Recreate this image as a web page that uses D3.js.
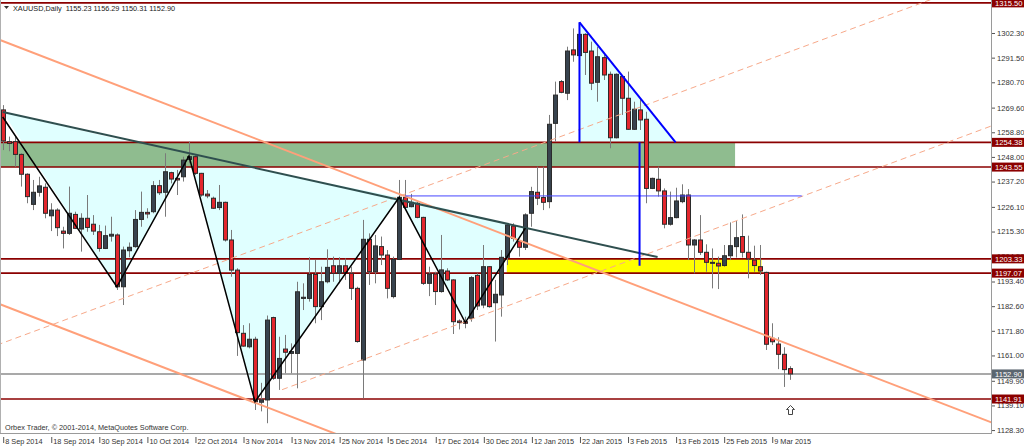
<!DOCTYPE html>
<html><head><meta charset="utf-8">
<script src="https://cdn.jsdelivr.net/npm/d3@7/dist/d3.min.js"></script>
<style>html,body{margin:0;padding:0;background:#fff;overflow:hidden}
svg{display:block;font-family:"Liberation Sans",Arial,sans-serif}</style>
</head><body><svg id="c" width="1024" height="447"></svg>
<script>
// ---------- data ----------
const title = "XAUUSD,Daily  1155.23 1156.29 1150.31 1152.90";
const copyright = "Orbex Trader, \u00a9 2001-2014, MetaQuotes Software Corp.";
const dateTickIndex = [0,8,16,24,32,40,48,56,64,72,80,88,96,104,112,120,128];
const dateTickLabels = ["8 Sep 2014","18 Sep 2014","30 Sep 2014","10 Oct 2014","22 Oct 2014","3 Nov 2014","13 Nov 2014","25 Nov 2014","5 Dec 2014","17 Dec 2014","30 Dec 2014","12 Jan 2015","22 Jan 2015","3 Feb 2015","13 Feb 2015","25 Feb 2015","9 Mar 2015"];
const priceTicks = [1315.40,1302.30,1291.50,1280.70,1269.60,1258.80,1248.00,1237.20,1226.10,1215.30,1204.50,1193.40,1182.60,1171.80,1161.00,1149.90,1139.10,1128.30];
const openP = [1268.6,1254.7,1254.7,1249.1,1240.4,1227.2,1232.5,1234.7,1222.2,1224.7,1215.5,1214.5,1222.8,1216.4,1221.1,1218.5,1215.2,1207.9,1213.3,1213.8,
1191.1,1206.9,1208.7,1220.6,1223.7,1224.0,1235.4,1232.5,1241.1,1238.6,1239.3,1246.9,1248.1,1240.8,1231.7,1229.9,1225.8,1228.1,1211.6,1198.4,
1170.7,1164.8,1168.1,1140.5,1141.5,1177.6,1151.0,1163.8,1161.9,1161.9,1186.0,1186.0,1196.5,1182.4,1193.3,1200.3,1197.0,1200.3,1197.0,1190.4,
1159.0,1211.9,1197.7,1208.7,1205.0,1186.8,1203.1,1230.3,1226.2,1227.7,1221.5,1192.6,1196.7,1189.0,1198.0,1194.1,1176.1,1175.8,1177.3,1196.1,
1183.1,1199.9,1184.1,1187.5,1204.0,1217.7,1210.9,1208.4,1223.3,1232.5,1230.2,1228.4,1262.7,1281.0,1275.9,1294.9,1292.4,1301.7,1294.4,1280.7,
1291.5,1284.2,1256.4,1283.2,1273.7,1260.1,1268.6,1264.5,1234.2,1238.2,1233.1,1218.5,1221.4,1228.4,1231.3,1209.4,1211.6,1206.2,1201.4,1201.4,
1200.4,1204.7,1208.7,1213.1,1206.2,1202.8,1199.9,1197.4,1168.5,1166.0,1161.5,1155.23];
const highP = [1270.7,1256.9,1256.9,1249.6,1240.8,1237.9,1239.3,1236.4,1227.7,1225.5,1217.4,1235.0,1224.0,1223.3,1231.3,1222.5,1218.2,1217.9,1221.8,1214.5,
1208.7,1210.5,1224.7,1232.8,1225.5,1237.4,1237.9,1249.6,1241.5,1242.3,1248.1,1254.7,1248.8,1241.0,1233.5,1230.6,1235.7,1228.4,1216.0,1199.2,
1174.3,1175.1,1169.2,1149.0,1178.5,1178.0,1169.2,1170.0,1166.3,1193.3,1192.6,1204.0,1202.8,1199.9,1207.5,1204.3,1204.0,1203.5,1199.9,1191.1,
1220.4,1214.5,1213.8,1213.1,1207.2,1204.3,1237.9,1237.9,1231.8,1228.4,1221.8,1199.9,1197.7,1213.8,1199.2,1194.4,1176.8,1178.0,1195.8,1197.0,
1209.4,1200.2,1194.1,1207.2,1218.9,1218.9,1211.6,1223.3,1234.9,1243.7,1243.7,1266.4,1281.0,1281.7,1296.3,1304.3,1307.0,1302.2,1298.5,1296.3,
1292.9,1285.4,1284.6,1283.9,1285.4,1272.2,1273.7,1267.8,1238.9,1243.7,1234.2,1232.8,1234.5,1236.0,1233.9,1212.0,1222.5,1209.7,1207.9,1204.3,
1209.4,1219.3,1219.9,1222.8,1213.5,1209.1,1209.4,1197.7,1175.1,1169.0,1164.6,1156.29];
const lowP = [1251.0,1250.5,1243.7,1235.0,1227.7,1224.7,1230.6,1221.1,1215.5,1213.3,1207.9,1213.8,1216.4,1206.5,1215.2,1213.8,1206.5,1207.6,1210.9,1189.7,
1183.1,1204.0,1208.2,1217.4,1221.1,1223.3,1231.3,1221.8,1236.4,1231.3,1237.2,1245.2,1240.1,1230.6,1229.9,1225.2,1224.7,1210.9,1195.5,1160.8,
1164.8,1164.1,1137.1,1136.5,1131.3,1150.3,1145.9,1153.2,1153.2,1146.6,1180.9,1184.6,1175.1,1176.5,1192.6,1193.3,1192.6,1194.1,1185.3,1166.6,
1142.2,1191.9,1192.6,1200.6,1186.0,1186.0,1202.8,1224.7,1225.9,1221.1,1191.9,1187.0,1183.1,1188.5,1193.6,1170.4,1172.4,1172.9,1175.8,1180.9,
1181.7,1181.9,1167.1,1178.0,1200.6,1210.9,1204.3,1207.2,1217.4,1226.9,1224.7,1225.5,1254.7,1275.9,1272.9,1289.7,1288.3,1283.9,1277.3,1272.2,
1281.7,1251.8,1256.1,1266.4,1259.8,1259.8,1259.8,1227.7,1233.9,1230.6,1216.7,1217.9,1221.1,1227.7,1202.8,1197.0,1205.0,1197.7,1190.4,1190.1,
1199.9,1202.8,1203.9,1203.9,1194.8,1197.7,1196.3,1163.4,1165.6,1155.0,1147.2,1150.31];
const closeP = [1255.0,1253.9,1249.1,1240.4,1230.6,1232.5,1235.3,1223.3,1224.7,1217.0,1214.5,1223.3,1216.7,1221.1,1217.1,1215.5,1207.9,1213.5,1214.1,1191.1,
1207.2,1208.4,1220.6,1223.7,1223.0,1235.4,1232.3,1241.5,1238.3,1237.9,1246.6,1248.1,1240.8,1231.3,1230.9,1225.5,1228.1,1211.6,1198.4,1171.0,
1165.1,1168.1,1140.7,1141.5,1176.5,1151.0,1159.7,1162.4,1162.7,1188.9,1186.5,1196.5,1182.4,1193.3,1199.6,1197.0,1200.3,1197.3,1190.4,1167.1,
1211.9,1197.7,1209.0,1205.0,1190.4,1203.1,1230.3,1225.9,1228.1,1221.5,1192.6,1196.7,1189.0,1198.5,1194.1,1175.8,1175.4,1175.1,1195.1,1182.7,
1199.9,1182.4,1187.8,1204.0,1218.2,1212.3,1208.4,1222.6,1232.8,1229.9,1228.1,1262.3,1275.1,1276.3,1294.4,1292.7,1301.7,1293.8,1280.3,1291.9,
1283.9,1256.4,1284.2,1273.7,1260.1,1268.9,1264.2,1234.2,1238.6,1233.1,1218.5,1221.4,1228.7,1231.3,1209.4,1211.6,1206.2,1201.8,1201.8,1200.2,
1204.7,1209.1,1212.6,1206.2,1203.3,1200.4,1198.0,1165.9,1167.0,1161.5,1154.8,1152.90];
const levelPrices = [1315.50,1254.38,1243.55,1203.33,1197.07,1141.91];
const lastPrice = 1152.90;
// annotation objects in (bar index, price)
const greenZone = {i0:-1, i1:121.9, p0:1243.55, p1:1254.38};
const yellowZone = {i0:83.9, i1:126.3, p0:1197.07, p1:1203.33};
const patternTriangles = [
  [[0,1267.7],[19,1191.1],[31,1248.4]],
  [[31,1248.4],[42,1140.7],[66,1230.3]],
  [[66,1230.3],[77,1175.4],[87,1216.8]],
  [[96,1307.0],[96,1254.38],[112,1254.38]]
];
const zigzagIdx = [0,19,31,42,66,77,87];
const zigzagPrice = [1265.5,1191.1,1248.4,1140.7,1230.3,1175.4,1216.8];
const slateLine = [[0,1267.7],[109,1204.1]];
const orangeSolid = [[[-1,1299.8],[165,1131.2]], [[-1,1184.0],[60,1122.0]]];
const orangeDashed = [[[-1,1165.5],[165,1327.2]], [[46.5,1146.0],[165,1262.0]]];
const blueSegs = [[[96,1307.0],[96,1254.38]], [[96,1307.0],[112,1254.38]], [[106,1254.38],[106,1200.3]]];
const blueHoriz = [[67,1230.9],[133,1230.9]];
const arrowAt = [131,1139.5];

// ---------- drawing ----------
const W = 1024, H = 447, plotR = 991, plotB = 433;
const svg = d3.select("#c");
const x = d3.scaleLinear().domain([0,131]).range([2.7, 2.7+131*6.008]);
const y = d3.scaleLinear().domain([1126.58,1316.76]).range([434,0]);
const P = d => [x(d[0]), y(d[1])];

svg.append("defs").append("clipPath").attr("id","clip")
  .append("rect").attr("x",1).attr("y",0).attr("width",plotR-1).attr("height",plotB);
const g = svg.append("g").attr("clip-path","url(#clip)");

// cyan triangles
g.selectAll("polygon.tri").data(patternTriangles).join("polygon")
  .attr("points", t => t.map(P).map(p=>p.join(",")).join(" "))
  .attr("fill","#e0ffff");
// zones
g.append("rect").attr("x",x(greenZone.i0)).attr("width",x(greenZone.i1)-x(greenZone.i0))
  .attr("y",y(greenZone.p1)).attr("height",y(greenZone.p0)-y(greenZone.p1)).attr("fill","#8fbc8f");
g.append("rect").attr("x",x(yellowZone.i0)).attr("width",x(yellowZone.i1)-x(yellowZone.i0))
  .attr("y",y(yellowZone.p1)).attr("height",y(yellowZone.p0)-y(yellowZone.p1)).attr("fill","#ffff00");
// horizontal levels
g.selectAll("line.lvl").data(levelPrices).join("line")
  .attr("x1",0).attr("x2",plotR).attr("y1",d=>y(d)).attr("y2",d=>y(d))
  .attr("stroke","#8b0000").attr("stroke-width",1.6);
g.append("line").attr("x1",0).attr("x2",plotR).attr("y1",y(lastPrice)).attr("y2",y(lastPrice))
  .attr("stroke","#8c8c8c").attr("stroke-width",1.4);

// candles
const idx = d3.range(openP.length);
const cg = g.append("g");
idx.forEach(i => {
  const r = Math.round(x(i));
  const o = openP[i], c = closeP[i], bull = c >= o;
  cg.append("line").attr("x1",r+0.5).attr("x2",r+0.5).attr("y1",y(highP[i])).attr("y2",y(lowP[i]))
    .attr("stroke","#7a7a7a").attr("stroke-width",1);
  const top = y(Math.max(o,c)), bot = y(Math.min(o,c));
  cg.append("rect").attr("x",r-1.5).attr("width",4).attr("y",top).attr("height",Math.max(1,bot-top))
    .attr("fill", bull ? "#38434e" : "#e3262d").attr("stroke","#2b2b2b").attr("stroke-width",1);
});

// trend lines
const line = d3.line().x(d=>x(d[0])).y(d=>y(d[1]));
orangeSolid.forEach(s => g.append("path").attr("d",line(s)).attr("stroke","#ffa07a").attr("stroke-width",2).attr("fill","none"));
orangeDashed.forEach(s => g.append("path").attr("d",line(s)).attr("stroke","#f7a98a").attr("stroke-width",1).attr("stroke-dasharray","6,4").attr("fill","none"));
g.append("path").attr("d",line(slateLine)).attr("stroke","#2f4f4f").attr("stroke-width",2).attr("fill","none");
g.append("path").attr("d",line(zigzagIdx.map((d,k)=>[d,zigzagPrice[k]]))).attr("stroke","#000").attr("stroke-width",1.5).attr("fill","none");
g.append("path").attr("d",line(blueHoriz)).attr("stroke","#4646ff").attr("stroke-width",1).attr("fill","none");
blueSegs.forEach(s => g.append("path").attr("d",line(s)).attr("stroke","#0000ff").attr("stroke-width",2).attr("fill","none"));

// arrow
const [ax, ay] = P(arrowAt);
g.append("path").attr("transform",`translate(${Math.round(ax)+0.5},${Math.round(ay)+0.5})`)
  .attr("d","M0,0 L4,4 L2,4 L2,9 L-2,9 L-2,4 L-4,4 Z").attr("fill","#fff").attr("stroke","#444").attr("stroke-width",1);

// frame
svg.append("line").attr("x1",plotR+0.5).attr("x2",plotR+0.5).attr("y1",0).attr("y2",plotB+1).attr("stroke","#9a9a9a");
svg.append("line").attr("x1",0).attr("x2",plotR+1).attr("y1",plotB+0.5).attr("y2",plotB+0.5).attr("stroke","#9a9a9a");
svg.append("line").attr("x1",0.5).attr("x2",0.5).attr("y1",0).attr("y2",plotB).attr("stroke","#b0b0b0");

// right axis
const ay1 = svg.append("g").attr("transform",`translate(${plotR+1},0)`)
  .call(d3.axisRight(y).tickValues(priceTicks).tickFormat(d3.format(".2f")).tickSize(3).tickPadding(2));
ay1.select(".domain").remove();
ay1.selectAll("line").attr("stroke","#555");
ay1.selectAll("text").attr("font-size",7.6).attr("fill","#333").attr("font-family","Liberation Sans, Arial, sans-serif");

// bottom axis
const ax1 = svg.append("g").attr("transform",`translate(0,${plotB+4})`)
  .call(d3.axisBottom(x).tickValues(dateTickIndex).tickFormat((d,k)=>dateTickLabels[k]).tickSize(6));
ax1.select(".domain").remove();
ax1.selectAll("line").attr("stroke","#555").attr("transform","translate(0.5,0)");
ax1.selectAll("text").attr("text-anchor","start").attr("x",2).attr("y",1.5).attr("dy","0.71em")
  .attr("font-size",7.3).attr("fill","#333").attr("font-family","Liberation Sans, Arial, sans-serif");

// level labels
const lab = svg.append("g");
levelPrices.forEach(p => {
  lab.append("rect").attr("x",plotR+1).attr("y",y(p)-4.5).attr("width",W-plotR-1).attr("height",9).attr("fill","#8b0000");
  lab.append("text").attr("x",plotR+4).attr("y",y(p)+2.8).attr("font-size",7.6).attr("fill","#fff").text(p.toFixed(2));
});
lab.append("rect").attr("x",plotR+1).attr("y",y(lastPrice)-4.5).attr("width",W-plotR-1).attr("height",9).attr("fill","#5b6670");
lab.append("text").attr("x",plotR+4).attr("y",y(lastPrice)+2.8).attr("font-size",7.6).attr("fill","#fff").text(lastPrice.toFixed(2));

// title & copyright
svg.append("path").attr("d","M4,6 L9,6 L6.5,9 Z").attr("fill","#333");
svg.append("text").attr("x",13).attr("y",11).attr("font-size",7.3).attr("fill","#222").attr("xml:space","preserve").text(title);
svg.append("text").attr("x",5).attr("y",430).attr("font-size",7.3).attr("fill","#333").text(copyright);
</script></body></html>
